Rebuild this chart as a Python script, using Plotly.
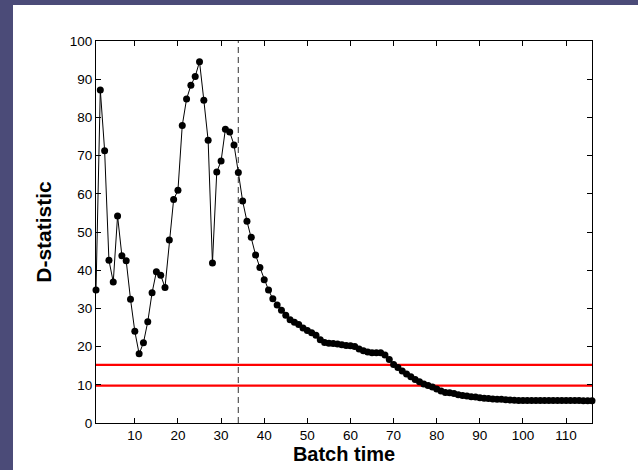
import plotly.graph_objects as go

batch_time = list(range(1, 117))
d_statistic = [
    34.8, 87.2, 71.3, 42.6, 36.9, 54.2, 43.8, 42.5, 32.4, 24.0,
    18.1, 21.0, 26.5, 34.1, 39.6, 38.7, 35.5, 47.9, 58.5, 60.9,
    77.9, 84.8, 88.4, 90.7, 94.6, 84.5, 74.0, 41.9, 65.7, 68.6,
    76.9, 76.2, 72.8, 65.6, 58.1, 52.8, 48.6, 44.0, 40.7, 37.5,
    34.8, 32.5, 30.9, 29.5, 28.2, 27.0, 26.4, 25.8, 24.9, 24.2,
    23.6, 23.0, 21.8, 21.1, 20.9, 20.8, 20.7, 20.5, 20.3, 20.2,
    20.0, 19.4, 18.9, 18.6, 18.4, 18.4, 18.4, 17.8, 16.6, 15.3,
    14.5, 13.6, 12.8, 12.1, 11.4, 10.8, 10.2, 9.8, 9.4, 8.9,
    8.4, 8.0, 7.9, 7.7, 7.4, 7.2, 7.1, 6.9, 6.8, 6.6,
    6.5, 6.4, 6.3, 6.2, 6.2, 6.1, 6.0, 5.95, 5.9, 5.9,
    5.9, 5.9, 5.9, 5.9, 5.9, 5.9, 5.9, 5.9, 5.9, 5.9,
    5.9, 5.9, 5.9, 5.85, 5.85, 5.85,
]
control_limits = [15.2, 9.8]
fault_time = 34
x_range = [1, 116]
y_range = [0, 100]
x_ticks = list(range(10, 111, 10))
y_ticks = list(range(0, 101, 10))

fig = go.Figure()

for lim in control_limits:
    fig.add_trace(go.Scatter(
        x=x_range, y=[lim, lim], mode="lines",
        line=dict(color="#ff0000", width=2.2), hoverinfo="skip",
    ))

fig.add_trace(go.Scatter(
    x=[fault_time, fault_time], y=y_range, mode="lines",
    line=dict(color="#555555", width=1.2, dash="6px,4px"), hoverinfo="skip",
))

fig.add_trace(go.Scatter(
    x=batch_time, y=d_statistic, mode="lines+markers",
    line=dict(color="black", width=1),
    marker=dict(color="black", size=7),
    cliponaxis=False,
))

L, R, T, B = 96, 46, 41, 47
W, H = 638, 470

# white slide panel
fig.add_shape(type="rect", xref="paper", yref="paper",
              x0=(13 - L) / (W - L - R), x1=1.2,
              y0=-0.3, y1=(H - B - 5) / (H - T - B),
              fillcolor="white", line=dict(width=0), layer="below")

FONT = "Liberation Sans, Arial, sans-serif"
axis_common = dict(
    showgrid=False, zeroline=False, showline=True, linecolor="black",
    linewidth=1, mirror="ticks", ticks="inside", ticklen=5,
    tickcolor="black", tickwidth=1, automargin=False,
    tickfont=dict(family=FONT, size=13.5, color="black"),
)

fig.update_layout(
    width=W, height=H,
    margin=dict(l=L, r=R, t=T, b=B),
    paper_bgcolor="#4b4b78",
    plot_bgcolor="white",
    showlegend=False,
    xaxis=dict(range=x_range, tickvals=x_ticks, **axis_common,
               title=dict(text="<b>Batch time</b>", standoff=4,
                          font=dict(family=FONT, size=20, color="black"))),
    yaxis=dict(range=y_range, tickvals=y_ticks, **axis_common,
               title=dict(text="<b>D-statistic</b>", standoff=12,
                          font=dict(family=FONT, size=21, color="black"))),
)

fig.write_html("out.html")
